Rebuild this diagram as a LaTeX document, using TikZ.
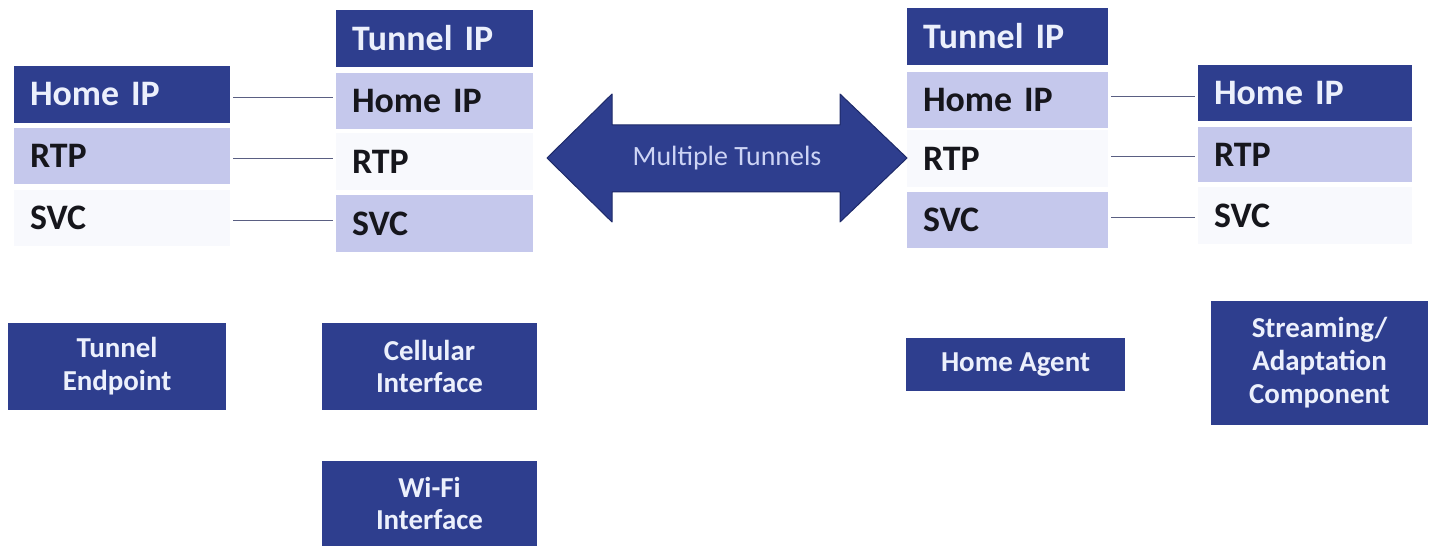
\documentclass[tikz,border=0pt]{standalone}
\usepackage{fontspec}
\setmainfont{Carlito}
\usetikzlibrary{calc}
\definecolor{deepblue}{RGB}{46,62,142}
\definecolor{arrowedge}{RGB}{30,42,105}
\definecolor{lavender}{RGB}{197,200,236}
\definecolor{paleband}{RGB}{248,249,253}
\definecolor{linkgray}{RGB}{90,95,130}
\definecolor{softwhite}{RGB}{236,240,252}
\definecolor{tunneltext}{RGB}{205,212,245}
\definecolor{inkblack}{RGB}{22,22,28}
\begin{document}
\begin{tikzpicture}[x=1bp,y=-1bp,
  layer/.style={anchor=north west, inner xsep=16bp, inner ysep=0pt, outer sep=0pt,
    align=left, font=\fontsize{36}{40}\selectfont\bfseries},
  darklayer/.style={layer, fill=deepblue, text=softwhite},
  lightlayer/.style={layer, fill=lavender, text=inkblack},
  palelayer/.style={layer, fill=paleband, text=inkblack},
  compbox/.style={anchor=north west, fill=deepblue, text=softwhite, align=center,
    inner sep=0pt, outer sep=0pt, font=\fontsize{29}{33}\selectfont\bfseries},
  link/.style={draw=linkgray, line width=1.2bp, shorten <=3bp, shorten >=3bp},
]
\useasboundingbox (0,0) rectangle (1432,546);

% left protocol stack
\node[darklayer,  text width=184bp, minimum height=57bp] (aHome) at (14,66)  {Home IP};
\node[lightlayer, text width=184bp, minimum height=56bp] (aRTP)  at (14,128) {RTP};
\node[palelayer,  text width=184bp, minimum height=56bp] (aSVC)  at (14,190) {SVC};

% tunnelled stack at the mobile side
\node[darklayer,  text width=165bp, minimum height=57bp] (bTun)  at (336,10)  {Tunnel IP};
\node[lightlayer, text width=165bp, minimum height=56bp] (bHome) at (336,73)  {Home IP};
\node[palelayer,  text width=165bp, minimum height=57bp] (bRTP)  at (336,133) {RTP};
\node[lightlayer, text width=165bp, minimum height=57bp] (bSVC)  at (336,195) {SVC};

% tunnelled stack at the home agent
\node[darklayer,  text width=169bp, minimum height=57bp] (cTun)  at (907,8)   {Tunnel IP};
\node[lightlayer, text width=169bp, minimum height=56bp] (cHome) at (907,72)  {Home IP};
\node[palelayer,  text width=169bp, minimum height=57bp] (cRTP)  at (907,130) {RTP};
\node[lightlayer, text width=169bp, minimum height=56bp] (cSVC)  at (907,192) {SVC};

% right protocol stack
\node[darklayer,  text width=182bp, minimum height=56bp] (dHome) at (1198,65)  {Home IP};
\node[lightlayer, text width=182bp, minimum height=55bp] (dRTP)  at (1198,127) {RTP};
\node[palelayer,  text width=182bp, minimum height=57bp] (dSVC)  at (1198,187) {SVC};

% layer-to-layer connectors
\coordinate (m1) at ($(aHome.east)!.5!(bHome.west)$);
\coordinate (m2) at ($(aRTP.east)!.5!(bRTP.west)$);
\coordinate (m3) at ($(aSVC.east)!.5!(bSVC.west)$);
\draw[link] (aHome.east |- m1) -- (bHome.west |- m1);
\draw[link] (aRTP.east |- m2)  -- (bRTP.west |- m2);
\draw[link] (aSVC.east |- m3)  -- (bSVC.west |- m3);
\coordinate (n1) at ($(cHome.east)!.5!(dHome.west)$);
\coordinate (n2) at ($(cRTP.east)!.5!(dRTP.west)$);
\coordinate (n3) at ($(cSVC.east)!.5!(dSVC.west)$);
\draw[link] (cHome.east |- n1) -- (dHome.west |- n1);
\draw[link] (cRTP.east |- n2)  -- (dRTP.west |- n2);
\draw[link] (cSVC.east |- n3)  -- (dSVC.west |- n3);

% double-headed tunnel arrow
\filldraw[fill=deepblue, draw=arrowedge, line width=1bp, line join=round]
  (547,158) -- (612,94) -- (612,125) -- (840,125) -- (840,94) -- (907,158)
  -- (840,222) -- (840,192) -- (612,192) -- (612,222) -- cycle;
\node[text=tunneltext, font=\fontsize{28}{32}\selectfont] (tunnels) at (727,158) {Multiple Tunnels};

% component boxes
\node[compbox, minimum width=218bp, minimum height=87bp]  (endpoint) at (8,323)    {Tunnel\\Endpoint};
\node[compbox, minimum width=215bp, minimum height=87bp]  (cellular) at (322,323)  {Cellular\\Interface};
\node[compbox, minimum width=215bp, minimum height=85bp]  (wifi)     at (322,461)  {Wi-Fi\\Interface};
\node[compbox, minimum width=219bp, minimum height=53bp]  (agent)    at (906,338)  {Home Agent};
\node[compbox, minimum width=217bp, minimum height=124bp] (stream)   at (1211,301) {Streaming/\\Adaptation\\Component};
\end{tikzpicture}
\end{document}
